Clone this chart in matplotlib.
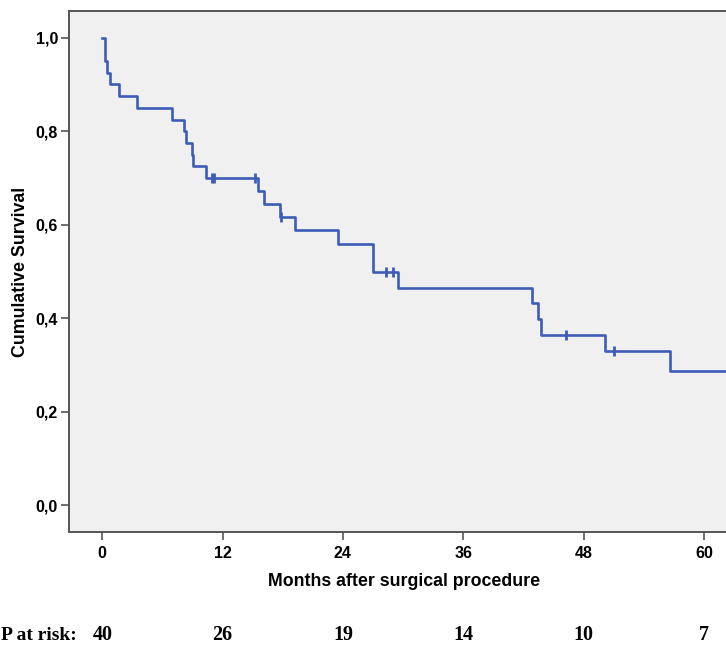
import matplotlib
matplotlib.use("Agg")
import matplotlib.pyplot as plt
from matplotlib.font_manager import FontProperties

# Kaplan-Meier steps (months, survival after the step)
step_months = [0.0, 0.25, 0.5, 0.8, 1.7, 3.5, 7.0, 8.1, 8.3, 8.9, 9.05, 10.3,
               15.5, 16.1, 17.7, 19.2, 23.5, 27.0, 29.5, 42.9, 43.5, 43.8,
               50.1, 56.6]
step_surv = [1.0, 0.95, 0.925, 0.9, 0.875, 0.85, 0.825, 0.8, 0.775, 0.75,
             0.725, 0.7, 0.672, 0.645, 0.616, 0.588, 0.558, 0.499, 0.465,
             0.433, 0.399, 0.365, 0.329, 0.288]
end_month = 64.0

# censored observations
cens_months = [10.9, 11.1, 15.2, 17.8, 28.3, 29.0, 46.2, 51.0]
cens_surv = [0.7, 0.7, 0.7, 0.616, 0.499, 0.499, 0.365, 0.329]

x_ticks = [0, 12, 24, 36, 48, 60]
y_ticks = [0.0, 0.2, 0.4, 0.6, 0.8, 1.0]
at_risk = [40, 26, 19, 14, 10, 7]

W, H = 726, 646
fig = plt.figure(figsize=(W / 100, H / 100), dpi=100)
# axes runs past the right edge of the picture, as in the reference
ax = fig.add_axes([69 / W, 1 - 532 / H, (740 - 69) / W, (532 - 11) / H])
ax.set_facecolor("#f0f0f0")

blue = "#3d5cb8"
xs = step_months + [end_month]
ys = step_surv + [step_surv[-1]]
ax.step(xs, ys, where="post", color=blue, lw=1.9)
ax.plot(cens_months, cens_surv, ls="none", marker="|", ms=6.5, mew=2.0, color=blue)

ax.set_xlim(-3.32, 63.6)
ax.set_ylim(-0.057, 1.057)
ax.set_xticks(x_ticks)
ax.set_yticks(y_ticks)
ax.set_yticklabels([f"{v:.1f}".replace(".", ",") for v in y_ticks])

for s in ["left", "bottom", "top"]:
    ax.spines[s].set_color("#555555")
    ax.spines[s].set_linewidth(1.4)
ax.spines["right"].set_visible(False)

tick_fp = FontProperties(family="Liberation Sans", weight="bold", size=11.5)
for lab in ax.get_xticklabels() + ax.get_yticklabels():
    lab.set_fontproperties(tick_fp)
ax.tick_params(axis="both", direction="out", length=6, width=1.2, color="#555555")
ax.tick_params(axis="x", pad=4)
ax.tick_params(axis="y", pad=2)

ax.set_xlabel("Months after surgical procedure", family="Liberation Sans",
              weight="bold", size=12.8, labelpad=9)
ax.set_ylabel("Cumulative Survival", family="Liberation Sans",
              weight="bold", size=12.8, labelpad=5)

# number at risk row, aligned with x ticks
to_fig = lambda m: (ax.transData.transform((m, 0))[0]) / W
yrow = 1 - 635 / H
fig.text(1 / W, yrow, "P at risk:", ha="left", va="center",
         family="Liberation Serif", weight="bold", size=14)
for m, n in zip(x_ticks, at_risk):
    fig.text(to_fig(m), yrow, str(n), ha="center", va="center",
             family="Liberation Serif", weight="bold", size=14.5)

fig.savefig("out.png", dpi=100)
